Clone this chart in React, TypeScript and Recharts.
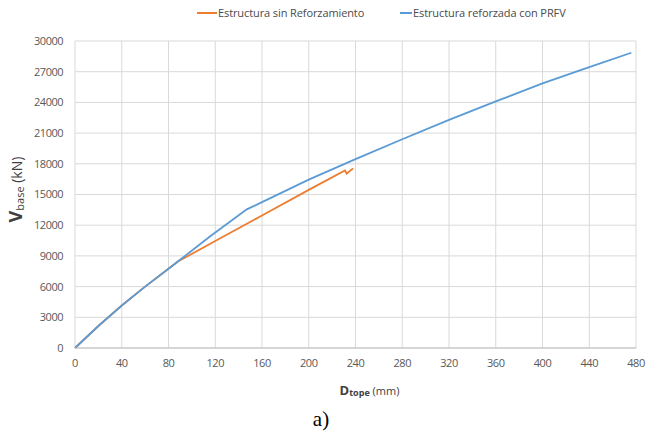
import React from "react";
import { LineChart, Line, XAxis, YAxis, CartesianGrid, Legend, Label } from "recharts";

const xTicks = [0, 40, 80, 120, 160, 200, 240, 280, 320, 360, 400, 440, 480];
const yTicks = [0, 3000, 6000, 9000, 12000, 15000, 18000, 21000, 24000, 27000, 30000];

const sinRefX = [0, 20, 40, 60, 80, 88, 120, 160, 200, 231, 232.5, 238];
const sinRefY = [0, 2150, 4150, 6000, 7750, 8450, 10450, 12950, 15450, 17350, 17050, 17550];

const prfvX = [0, 20, 40, 60, 80, 88, 116, 147, 160, 200, 240, 280, 320, 360, 400, 440, 476];
const prfvY = [0, 2150, 4150, 6000, 7750, 8450, 10950, 13550, 14250, 16450, 18450, 20400, 22300, 24100, 25850, 27450, 28850];

const sinRef = sinRefX.map((x, i) => ({ x, y: sinRefY[i] }));
const prfv = prfvX.map((x, i) => ({ x, y: prfvY[i] }));

const ORANGE = "#ED7D31";
const BLUE = "#5B9BD5";
const FONT = "'Open Sans', sans-serif";

const LegendContent = () => (
  <div style={{ display: "flex", justifyContent: "flex-start", fontFamily: FONT, fontSize: 11, letterSpacing: -0.1, color: "#4a4a4a", paddingLeft: 197 }}>
    <div style={{ display: "flex", alignItems: "center", width: 203 }}>
      <span style={{ display: "inline-block", width: 20, height: 2, background: ORANGE, marginRight: 1 }} />
      <span>Estructura sin Reforzamiento</span>
    </div>
    <div style={{ display: "flex", alignItems: "center" }}>
      <span style={{ display: "inline-block", width: 12, height: 2, background: BLUE, marginRight: 1 }} />
      <span>Estructura reforzada con PRFV</span>
    </div>
  </div>
);

const YTitle = (props: any) => {
  const vb = props.viewBox || {};
  const cx = 22;
  const cy = vb.y + vb.height / 2 - 5;
  return (
    <text x={cx} y={cy} transform={`rotate(-90 ${cx} ${cy})`} textAnchor="middle" fill="#404040" fontFamily={FONT}>
      <tspan fontSize={18} fontWeight="bold">V</tspan>
      <tspan fontSize={11} dy={2}>base</tspan>
      <tspan fontSize={14} dy={-2}> (kN)</tspan>
    </text>
  );
};

const XTitle = (props: any) => {
  const vb = props.viewBox || {};
  const cx = vb.x + vb.width / 2 + 14;
  const cy = 395;
  return (
    <text x={cx} y={cy} textAnchor="middle" fill="#404040" fontFamily={FONT}>
      <tspan fontSize={13} fontWeight="bold">D</tspan>
      <tspan fontSize={9} fontWeight="bold" dy={1}>tope</tspan>
      <tspan fontSize={11} dy={-1}> (mm)</tspan>
    </text>
  );
};

const tickStyle = { fill: "#595959", fontSize: 11, fontFamily: FONT, letterSpacing: -0.5 };

export default function App() {
  return (
    <div style={{ position: "absolute", left: 0, top: 0, width: 648, height: 435, background: "#fff" }}>
      <LineChart width={648} height={435} margin={{ top: 26, right: 12, bottom: 0, left: 0 }}>
        <CartesianGrid stroke="#d9d9d9" strokeWidth={1} />
        <XAxis
          type="number"
          dataKey="x"
          domain={[0, 480]}
          ticks={xTicks}
          interval={0}
          height={87}
          tickLine={false}
          tickMargin={5}
          axisLine={{ stroke: "#bfbfbf" }}
          tick={tickStyle}
        >
          <Label content={XTitle} />
        </XAxis>
        <YAxis
          type="number"
          dataKey="y"
          domain={[0, 30000]}
          ticks={yTicks}
          interval={0}
          width={75}
          tickLine={false}
          tickMargin={6}
          axisLine={false}
          tick={tickStyle}
        >
          <Label content={YTitle} />
        </YAxis>
        <Legend verticalAlign="top" content={LegendContent} wrapperStyle={{ top: 5, left: 0, width: 648 }} />
        <Line data={sinRef} dataKey="y" name="Estructura sin Reforzamiento" stroke={ORANGE} strokeWidth={1.8} dot={false} isAnimationActive={false} />
        <Line data={prfv} dataKey="y" name="Estructura reforzada con PRFV" stroke={BLUE} strokeWidth={1.8} dot={false} isAnimationActive={false} />
      </LineChart>
      <div style={{ position: "absolute", left: 0, width: 642, top: 407, textAlign: "center", fontFamily: "'Liberation Serif', serif", fontSize: 21, color: "#000" }}>
        a)
      </div>
    </div>
  );
}
